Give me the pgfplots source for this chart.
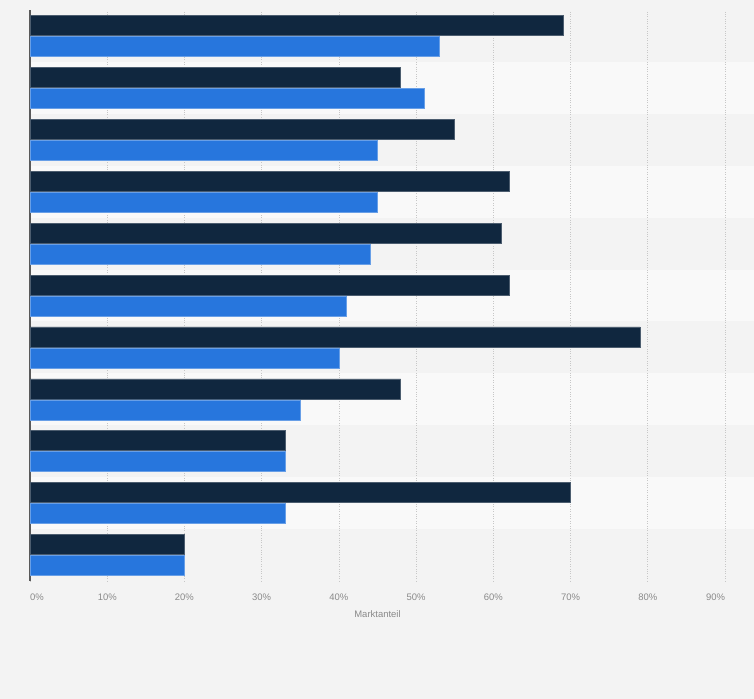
\documentclass[border=0pt]{standalone}
\usepackage{pgfplots}
\pgfplotsset{compat=1.18}
\usepackage{pgfplotstable}
\usepackage{fontspec}
\setmainfont{Liberation Sans}

\definecolor{pagebg}{HTML}{F3F3F3}
\definecolor{bandlight}{HTML}{F9F9F9}
\definecolor{navy}{HTML}{10273F}
\definecolor{barblue}{HTML}{2776DD}
\definecolor{ticktext}{HTML}{8A8A8A}

% position (top group = 10), dark series, blue series
\pgfplotstableread{
pos dark blue
10  69   53
9   48   51
8   55   45
7   62   45
6   61   44
5   62   41
4   79   40
3   48   35
2   33   33
1   70   33
0   20   20
}\shares

\begin{document}
\begin{tikzpicture}
\fill[pagebg] (0,0) rectangle (754bp,699bp);
% alternating row bands
\foreach \i in {1,3,5,7,9} {
  \fill[bandlight] (30bp,{(689-\i*51.909)*1bp}) rectangle (754bp,{(689-(\i+1)*51.909)*1bp});
}
\begin{axis}[
  at={(30bp,118bp)}, anchor=south west,
  scale only axis, width=695bp, height=571bp,
  xbar, bar width=0.385,
  xmin=0, xmax=90, ymin=-0.5, ymax=10.5,
  xtick={0,10,...,90}, ytick=\empty,
  axis lines*=left,
  x axis line style={draw=none},
  y axis line style={draw=black!65, line width=1.2bp},
  xmajorgrids,
  major grid style={draw=black!22, dotted, line width=0.6bp},
  tick style={draw=none},
  /pgf/number format/assume math mode=true,
  xticklabel={\ifnum\ticknum=0 \makebox[0pt][l]{\pgfmathprintnumber{\tick}\%}\else\ifnum\ticknum=9 \makebox[0pt][r]{\pgfmathprintnumber{\tick}\%}\else\pgfmathprintnumber{\tick}\%\fi\fi},
  xticklabel style={font=\fontsize{9.5}{11}\selectfont, text=ticktext, anchor=base, yshift=-19.5bp},
  xlabel={Marktanteil},
  xlabel style={font=\fontsize{9.5}{11}\selectfont, text=ticktext,
    at={(axis description cs:0.5,0)}, anchor=base, yshift=-36.5bp},
]
\addplot[fill=navy, draw=navy!75!white, line width=0.5bp, bar shift=0.202] table[x=dark, y=pos] {\shares};
\addplot[fill=barblue, draw=barblue!70!white, line width=0.5bp, bar shift=-0.202] table[x=blue, y=pos] {\shares};
\end{axis}
\end{tikzpicture}
\end{document}
